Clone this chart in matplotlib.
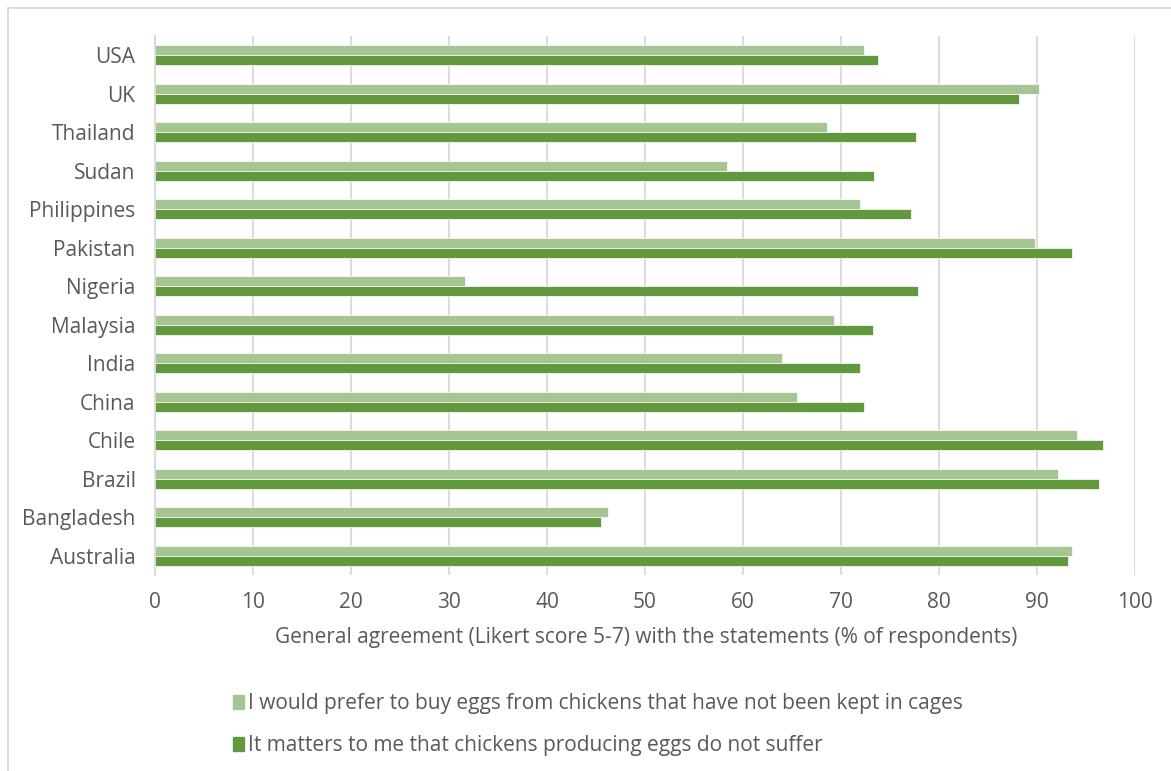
import matplotlib
matplotlib.use('Agg')
import matplotlib.pyplot as plt
import matplotlib.patches as mpatches
from matplotlib.lines import Line2D

# ── data (bottom → top, as Excel lays out a bar chart) ─────────────
countries = ['Australia', 'Bangladesh', 'Brazil', 'Chile', 'China', 'India',
             'Malaysia', 'Nigeria', 'Pakistan', 'Philippines', 'Sudan',
             'Thailand', 'UK', 'USA']
prefer_cage_free = [93.6, 46.2, 92.1, 94.1, 65.5, 64.0,
                    69.3, 31.6, 89.8, 71.9, 58.4,
                    68.6, 90.2, 72.3]
not_suffer = [93.2, 45.5, 96.3, 96.7, 72.3, 71.9,
              73.3, 77.9, 93.6, 77.1, 73.4,
              77.7, 88.2, 73.8]
x_ticks = list(range(0, 101, 10))

label_light = 'I would prefer to buy eggs from chickens that have not been kept in cages'
label_dark = 'It matters to me that chickens producing eggs do not suffer'
x_label = 'General agreement (Likert score 5-7) with the statements (% of respondents)'

# ── style ──────────────────────────────────────────────────────────
C_LIGHT = '#A5C592'
C_DARK = '#62993E'
C_GRID = '#D9D9D9'
C_TXT = '#595959'
FS = 15
plt.rcParams['font.family'] = ['Open Sans', 'DejaVu Sans']

W, H = 1171, 771
fig = plt.figure(figsize=(W / 100, H / 100), dpi=100, facecolor='white')

# axes placed in pixel terms
left, right, top, bottom = 155, 1135, 36, 575
ax = fig.add_axes([left / W, 1 - bottom / H, (right - left) / W, (bottom - top) / H])

bh = 0.26
ypos = list(range(len(countries)))
ax.barh([y + bh / 2 for y in ypos], prefer_cage_free, height=bh,
        color=C_LIGHT, edgecolor='white', linewidth=0.5, zorder=3)
ax.barh([y - bh / 2 for y in ypos], not_suffer, height=bh,
        color=C_DARK, edgecolor='white', linewidth=0.5, zorder=3)

ax.set_xlim(0, 100)
ax.set_ylim(-0.5, len(countries) - 0.5)
ax.set_xticks(x_ticks)
ax.set_yticks(ypos)
ax.set_yticklabels(countries)
ax.tick_params(axis='both', length=0, colors=C_TXT, labelsize=FS)
ax.tick_params(axis='x', pad=12)
ax.tick_params(axis='y', pad=14)
ax.grid(axis='x', color=C_GRID, lw=1.3, zorder=0)
for s in ['top', 'right', 'bottom']:
    ax.spines[s].set_visible(False)
ax.spines['left'].set_color(C_GRID)
ax.spines['left'].set_linewidth(1.3)
ax.spines['left'].set_zorder(4)

fig.text(646 / W, 1 - 637 / H, x_label, ha='center', va='center',
         color=C_TXT, fontsize=FS)

# legend
handles = [mpatches.Patch(color=C_LIGHT, label=label_light),
           mpatches.Patch(color=C_DARK, label=label_dark)]
fig.legend(handles=handles, loc='upper left',
           bbox_to_anchor=(223 / W, 1 - 683 / H),
           frameon=False, fontsize=FS, labelcolor=C_TXT,
           handlelength=0.5, handleheight=0.6, handletextpad=0.2,
           labelspacing=1.0, borderpad=0)

# chart-area border (left and top only visible)
fig.add_artist(Line2D([8 / W, 8 / W], [0, 1 - 8 / H], transform=fig.transFigure,
                      color=C_GRID, lw=1.3))
fig.add_artist(Line2D([8 / W, 1], [1 - 8 / H, 1 - 8 / H], transform=fig.transFigure,
                      color=C_GRID, lw=1.3))

fig.savefig('out.png', dpi=100, facecolor='white')
